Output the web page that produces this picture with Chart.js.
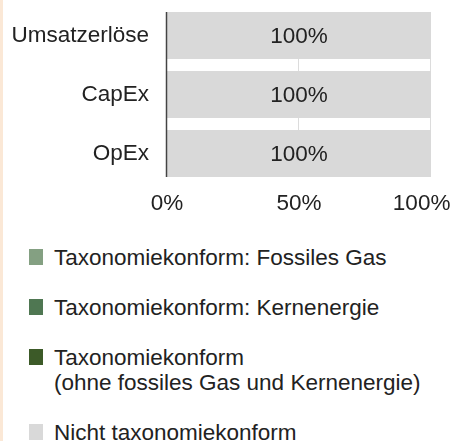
<!DOCTYPE html>
<html>
<head>
<meta charset="utf-8">
<script src="https://cdn.jsdelivr.net/npm/chart.js@4/dist/chart.umd.min.js"></script>
<style>
  body { margin: 0; background: #fff; }
  #wrap { position: relative; width: 456px; height: 441px; overflow: hidden; }
  #chart { position: absolute; left: 0; top: 0; }
  #stripe { position: absolute; left: 0; top: 0; width: 3px; height: 441px; background: #fbe8d6; }
  #legend { position: absolute; left: 29px; top: 245px; font-family: "Liberation Sans", Arial, sans-serif; font-size: 22.5px; line-height: 25px; color: #222; }
  .item { display: flex; align-items: flex-start; margin-bottom: 25px; }
  .box { width: 14px; height: 16px; margin-top: 4px; margin-right: 11px; flex: none; }
  .txt { white-space: pre-line; }
</style>
</head>
<body>
<div id="wrap">
  <canvas id="chart" width="456" height="220"></canvas>
  <div id="stripe"></div>
  <div id="legend"></div>
</div>
<script>
const categories = ['Umsatzerlöse', 'CapEx', 'OpEx'];
const seriesNames = [
  'Taxonomiekonform: Fossiles Gas',
  'Taxonomiekonform: Kernenergie',
  'Taxonomiekonform\n(ohne fossiles Gas und Kernenergie)',
  'Nicht taxonomiekonform'
];
const fossilGas = [0, 0, 0];
const nuclear = [0, 0, 0];
const alignedOther = [0, 0, 0];
const notAligned = [100, 100, 100];
const xTicks = [0, 50, 100];

const colors = ['#84a082', '#4f7752', '#3c5a28', '#d9d9d9'];
const font = { family: '"Liberation Sans", Arial, sans-serif', size: 22.5 };

// vertical lines only between the bars, like the original
const gapLines = {
  id: 'gapLines',
  beforeDatasetsDraw(chart) {
    const bars = chart.getDatasetMeta(3).data;
    const top = bars[0].y - bars[0].height / 2;
    const bottom = bars[bars.length - 1].y + bars[bars.length - 1].height / 2;
    const ctx = chart.ctx, x = chart.scales.x;
    ctx.save();
    ctx.strokeStyle = '#dcdcdc';
    ctx.lineWidth = 1;
    xTicks.slice(1).forEach(v => {
      const px = Math.round(x.getPixelForValue(v)) - 0.5;
      ctx.beginPath(); ctx.moveTo(px, top); ctx.lineTo(px, bottom); ctx.stroke();
    });
    ctx.restore();
  },
  afterDatasetsDraw(chart) {
    const bars = chart.getDatasetMeta(3).data;
    const top = bars[0].y - bars[0].height / 2;
    const bottom = bars[bars.length - 1].y + bars[bars.length - 1].height / 2;
    const ctx = chart.ctx;
    const px = Math.round(chart.scales.x.getPixelForValue(0)) - 0.5;
    ctx.save();
    ctx.strokeStyle = '#444';
    ctx.lineWidth = 1.5;
    ctx.beginPath(); ctx.moveTo(px, top); ctx.lineTo(px, bottom); ctx.stroke();
    // value labels
    ctx.fillStyle = '#222';
    ctx.font = '22.5px "Liberation Sans", Arial, sans-serif';
    ctx.textAlign = 'center';
    ctx.textBaseline = 'middle';
    chart.data.datasets.forEach((ds, i) => {
      chart.getDatasetMeta(i).data.forEach((bar, j) => {
        if (ds.data[j] > 0) {
          ctx.fillText(ds.data[j] + '%', (bar.base + bar.x) / 2, bar.y + 1);
        }
      });
    });
    ctx.restore();
  }
};

const chart = new Chart(document.getElementById('chart'), {
  type: 'bar',
  data: {
    labels: categories,
    datasets: [fossilGas, nuclear, alignedOther, notAligned].map((d, i) => ({
      label: seriesNames[i],
      data: d,
      backgroundColor: colors[i],
      borderWidth: 0,
      categoryPercentage: 0.797,
      barPercentage: 1
    }))
  },
  options: {
    indexAxis: 'y',
    responsive: false,
    animation: false,
    layout: { padding: { top: 6, bottom: 4, left: 0, right: 0 } },
    plugins: { legend: { display: false }, tooltip: { enabled: false } },
    scales: {
      x: {
        stacked: true, min: 0, max: 100,
        afterBuildTicks: s => { s.ticks = xTicks.map(v => ({ value: v })); },
        afterFit: s => { s.paddingLeft = 0; s.paddingRight = 25; s.height = 33; },
        grid: { display: false, drawTicks: false },
        border: { display: false },
        // last label pulled inwards so it stays inside the picture
        ticks: { font, color: '#222', padding: 7, maxRotation: 0,
                 callback: (v, i) => v + '%' + (i === xTicks.length - 1 ? '   ' : '') }
      },
      y: {
        stacked: true,
        afterFit: s => { s.width = 167; s.paddingTop = 0; s.paddingBottom = 0; },
        grid: { display: false, drawTicks: false },
        border: { display: false },
        ticks: { font, color: '#222', padding: 18 }
      }
    }
  },
  plugins: [gapLines]
});

const legend = document.getElementById('legend');
chart.data.datasets.forEach(ds => {
  const item = document.createElement('div');
  item.className = 'item';
  item.innerHTML = '<span class="box" style="background:' + ds.backgroundColor + '"></span><span class="txt"></span>';
  item.querySelector('.txt').textContent = ds.label;
  legend.appendChild(item);
});
</script>
</body>
</html>
